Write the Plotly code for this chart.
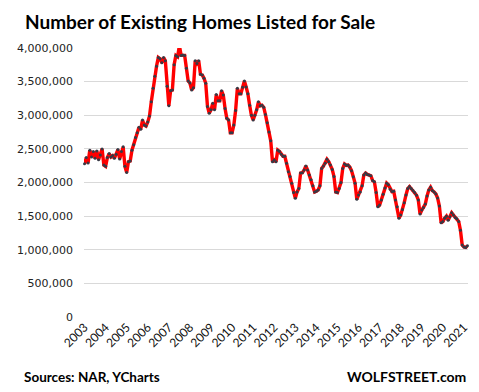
import plotly.graph_objects as go

# Number of existing homes listed for sale, millions, monthly Jan 2003 - Mar 2021
y2003 = [2.28, 2.37, 2.29, 2.48, 2.38, 2.46, 2.36, 2.47, 2.34, 2.41, 2.50, 2.26]
y2004 = [2.24, 2.37, 2.43, 2.38, 2.40, 2.36, 2.42, 2.49, 2.35, 2.46, 2.53, 2.24]
y2005 = [2.15, 2.31, 2.32, 2.48, 2.56, 2.67, 2.74, 2.82, 2.79, 2.93, 2.855, 2.84]
y2006 = [2.90, 2.99, 3.20, 3.40, 3.58, 3.73, 3.86, 3.84, 3.78, 3.86, 3.81, 3.43]
y2007 = [3.14, 3.365, 3.375, 3.75, 3.89, 3.87, 4.035, 3.89, 3.895, 3.89, 3.70, 3.51]
y2008 = [3.48, 3.375, 3.41, 3.81, 3.77, 3.81, 3.61, 3.60, 3.55, 3.475, 3.13, 3.03]
y2009 = [3.08, 3.18, 3.08, 3.31, 3.215, 3.215, 3.365, 3.30, 3.10, 2.955, 2.93, 2.74]
y2010 = [2.74, 2.855, 3.07, 3.40, 3.32, 3.32, 3.415, 3.51, 3.42, 3.32, 3.15, 3.00]
y2011 = [2.93, 3.00, 3.08, 3.20, 3.14, 3.15, 3.12, 3.01, 2.89, 2.75, 2.62, 2.31]
y2012 = [2.335, 2.31, 2.48, 2.46, 2.42, 2.39, 2.39, 2.285, 2.16, 2.09, 1.99, 1.85]
y2013 = [1.765, 1.86, 1.91, 2.14, 2.145, 2.185, 2.245, 2.185, 2.11, 2.04, 1.95, 1.86]
y2014 = [1.87, 1.89, 1.95, 2.21, 2.245, 2.285, 2.345, 2.31, 2.26, 2.195, 2.09, 1.86]
y2015 = [1.85, 1.91, 2.00, 2.21, 2.275, 2.255, 2.26, 2.23, 2.175, 2.085, 1.99, 1.75]
y2016 = [1.815, 1.86, 1.95, 2.11, 2.14, 2.12, 2.11, 2.10, 2.03, 2.01, 1.85, 1.64]
y2017 = [1.665, 1.74, 1.825, 1.92, 1.99, 1.965, 1.90, 1.865, 1.87, 1.74, 1.64, 1.47]
y2018 = [1.515, 1.60, 1.70, 1.815, 1.91, 1.94, 1.91, 1.88, 1.85, 1.81, 1.74, 1.53]
y2019 = [1.59, 1.63, 1.68, 1.80, 1.89, 1.93, 1.88, 1.86, 1.83, 1.77, 1.65, 1.40]
y2020 = [1.42, 1.47, 1.50, 1.44, 1.49, 1.55, 1.515, 1.48, 1.46, 1.42, 1.29, 1.07]
y2021 = [1.04, 1.035, 1.06]

year_labels = [str(y) for y in range(2003, 2022)]

values_m = (y2003 + y2004 + y2005 + y2006 + y2007 + y2008 + y2009 + y2010 +
            y2011 + y2012 + y2013 + y2014 + y2015 + y2016 + y2017 + y2018 +
            y2019 + y2020 + y2021)
values = [v * 1_000_000 for v in values_m]
months = list(range(len(values)))

# page has an 8px body margin, so the figure is drawn 8px smaller and offset
W, H = 471, 384
L, R, T, B = 66, 9, 40, 75
PW = W - L - R

fig = go.Figure()
fig.add_trace(go.Scatter(
    x=months, y=values, mode="lines+markers",
    line=dict(color="#FF0000", width=3.4),
    marker=dict(color="#363a46", size=3.0),
    cliponaxis=False, showlegend=False,
))

fig.update_layout(
    width=W, height=H,
    margin=dict(l=L, r=R, t=T, b=B),
    paper_bgcolor="white", plot_bgcolor="white",
    font=dict(family="DejaVu Sans", color="#222"),
    xaxis=dict(
        range=[-0.3, 218.3],
        tickvals=[12 * i for i in range(len(year_labels))],
        ticktext=year_labels,
        tickangle=-45,
        tickfont=dict(family="Lato", size=12, color="#111"),
        showgrid=False, zeroline=False, showline=False, ticks="",
    ),
    yaxis=dict(
        range=[0, 4_000_000],
        tickvals=[i * 500_000 for i in range(9)],
        tickformat=",d",
        tickfont=dict(family="DejaVu Sans", size=11, color="#222"),
        showgrid=True, gridcolor="#d9d9d9", gridwidth=1,
        zeroline=False, showline=False, ticks="",
        ticklabelstandoff=10,
    ),
    annotations=[
        dict(text="<b>Number of Existing Homes Listed for Sale</b>",
             xref="paper", yref="paper", x=-(L - 3) / PW, y=1, xanchor="left", yanchor="bottom",
             yshift=13, showarrow=False,
             font=dict(family="Lato", size=19, color="#000")),
        dict(text="<b>Sources: NAR, YCharts</b>",
             xref="paper", yref="paper", x=-(L - 2) / PW, y=0, xanchor="left", yanchor="middle",
             yshift=-60, showarrow=False,
             font=dict(family="Lato", size=13.5, color="#000")),
        dict(text="<b>WOLFSTREET.com</b>",
             xref="paper", yref="paper", x=1, y=0, xanchor="right", yanchor="middle",
             yshift=-59, showarrow=False,
             font=dict(family="Lato", size=14, color="#000")),
    ],
)

fig.write_html("out.html")
